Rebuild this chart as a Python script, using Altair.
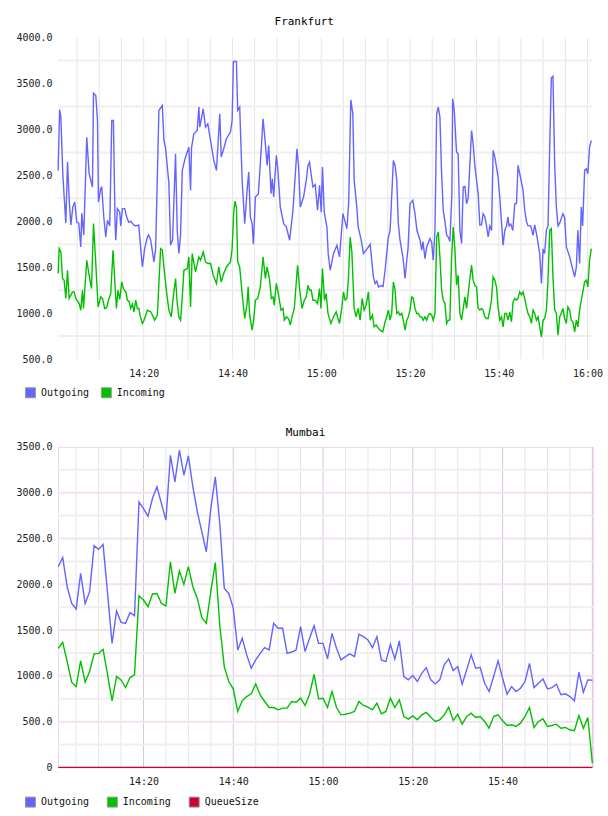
import altair as alt
import pandas as pd

FONT = "DejaVu Sans Mono"

# ---------------- Frankfurt (minutes after 14:00, values) ----------------
FRA_OUT_T = [
    0.74, 1.06, 1.35, 1.80, 2.47, 2.85, 3.26, 3.60, 4.04, 4.49,
    4.94, 5.39, 5.84, 6.07, 6.52, 7.19, 7.71, 8.09, 8.47, 8.70,
    9.21, 9.60, 9.82, 10.34, 10.56, 11.01, 11.46, 11.84, 12.36, 12.81,
    13.19, 13.55, 13.71, 14.09, 14.61, 14.83, 15.21, 15.73, 16.18, 16.63,
    17.08, 17.75, 18.20, 18.88, 19.71, 20.22, 20.83, 21.12, 21.57, 22.31,
    22.70, 23.44, 24.20, 24.56, 24.94, 25.69, 26.07, 26.52, 27.19, 27.57,
    27.93, 28.31, 28.70, 29.44, 30.18, 30.56, 30.79, 31.30, 32.07, 32.43,
    32.65, 33.42, 33.93, 34.45, 35.06, 35.80, 36.40, 37.15, 37.46, 38.04,
    38.65, 39.55, 39.93, 40.22, 40.90, 41.19, 41.64, 42.18, 42.76, 43.30,
    43.66, 44.04, 44.43, 44.72, 45.17, 45.84, 46.29, 46.90, 47.42, 47.80,
    48.16, 48.70, 48.99, 49.28, 49.89, 50.18, 50.79, 51.53, 52.13, 52.88,
    53.64, 54.54, 54.90, 55.28, 56.02, 56.63, 57.01, 57.37, 58.13, 58.65,
    59.17, 59.62, 60.00, 60.29, 60.67, 61.28, 61.57, 62.02, 62.76, 63.53,
    64.11, 64.88, 65.78, 66.18, 66.67, 67.12, 67.42, 68.02, 68.31, 68.99,
    69.51, 70.34, 71.01, 71.75, 72.13, 72.52, 72.88, 73.48, 73.93, 74.38,
    75.12, 75.51, 76.25, 76.63, 77.01, 77.37, 77.75, 78.43, 78.88, 79.26,
    79.55, 80.00, 80.61, 81.12, 81.57, 82.25, 82.63, 82.92, 83.37, 83.75,
    84.49, 84.88, 85.24, 85.62, 86.00, 86.36, 86.74, 87.12, 87.48, 87.87,
    88.25, 88.61, 88.99, 89.44, 89.60, 89.96, 90.49, 90.85, 91.24, 91.62,
    91.98, 92.36, 92.74, 93.10, 93.86, 94.22, 94.61, 95.35, 95.73, 96.11,
    96.47, 96.85, 97.24, 97.60, 97.98, 98.36, 98.72, 99.10, 99.48, 99.84,
    100.22, 100.61, 100.97, 101.35, 101.73, 102.09, 102.31, 102.70, 103.15, 103.60,
    103.98, 104.34, 104.72, 105.46, 105.84, 106.22, 106.58, 107.19, 107.71, 108.09,
    108.47, 109.21, 109.60, 109.96, 110.34, 110.72, 111.08, 111.46, 111.84, 112.20,
    112.58, 112.97, 113.33, 113.71, 114.45, 114.83, 115.21, 115.96, 116.34, 116.70,
    117.08, 117.46, 117.82, 118.20, 118.58, 118.88, 119.33, 119.71, 120.07, 120.45, 120.83,
]
FRA_OUT_V = [
    2554, 3217, 3134, 2500, 1978, 2645, 2200, 1960, 2155, 2210,
    1992, 1980, 1721, 2087, 1850, 2916, 2520, 2446, 2373, 3395,
    3370, 3098, 2210, 2358, 2370, 2047, 1829, 2011, 1950, 3098,
    3098, 2000, 1794, 2138, 2100, 1950, 2138, 2138, 2047, 1990,
    2000, 1960, 1950, 1960, 1503, 1700, 1829, 1850, 1800, 1558,
    1700, 3207, 3261, 2880, 2800, 2410, 1739, 1800, 2736, 1900,
    1649, 1850, 2554, 2700, 2807, 2337, 2800, 2953, 2990, 3243,
    3025, 3225, 3025, 3062, 2880, 2663, 2554, 3170, 2700, 2790,
    2899, 2971, 3098, 3740, 3740, 3207, 3243, 2446, 1975, 2337,
    2536, 2047, 1975, 1750, 2264, 2300, 2627, 3116, 2844, 2609,
    2826, 2301, 2464, 2264, 2717, 2590, 2155, 1975, 1940, 1794,
    2120, 2790, 2590, 2155, 2264, 2446, 2609, 2645, 2373, 2400,
    2120, 2391, 2100, 2590, 2101, 1938, 1649, 1467, 1649, 1739,
    1612, 2084, 1920, 2200, 3323, 3170, 2446, 2155, 1938, 1800,
    1649, 1700, 1750, 1395, 1323, 1350, 1286, 1300, 1290, 1467,
    1829, 1900, 2663, 2609, 2446, 1975, 1794, 1600, 1377, 1576,
    1700, 2192, 2228, 2084, 1900, 1794, 1685, 1780, 1594, 1720,
    1812, 1770, 1576, 1900, 3170, 3243, 3134, 2518, 2120, 2000,
    1850, 1829, 1780, 2300, 3334, 3207, 2754, 2736, 1900, 1758,
    2373, 2380, 2192, 2250, 2989, 2844, 2600, 2301, 1957, 1960,
    2084, 2050, 1950, 1829, 1950, 1900, 2772, 2700, 2590, 2482,
    2264, 1980, 1739, 1900, 1950, 2047, 1950, 1970, 1900, 2192,
    2192, 2609, 2518, 2337, 2120, 2000, 1950, 1950, 1848, 1960,
    1870, 1649, 1323, 1700, 1650, 1900, 1950, 2807, 3560, 3580,
    2627, 2155, 1950, 1980, 2084, 2040, 1721, 1612, 1540, 1467,
    1395, 1500, 1902, 1540, 2155, 1950, 2554, 2572, 2518, 2807, 2880,
]
FRA_IN_T = [
    0.74, 0.97, 1.35, 1.73, 2.09, 2.47, 2.85, 3.21, 3.98, 4.34,
    4.72, 5.46, 5.84, 6.22, 6.45, 7.19, 7.71, 8.25, 8.70, 9.21,
    9.73, 10.34, 10.72, 11.24, 11.69, 12.07, 12.58, 13.10, 13.48, 13.87,
    14.22, 14.61, 15.06, 15.44, 15.96, 16.34, 16.70, 17.08, 17.46, 17.82,
    18.20, 18.58, 18.94, 19.17, 19.71, 20.07, 20.83, 21.57, 21.96, 22.47,
    23.08, 23.82, 24.20, 24.56, 25.10, 25.69, 26.22, 26.67, 27.19, 27.57,
    27.93, 28.31, 28.70, 29.06, 29.82, 30.18, 30.56, 30.94, 31.69, 32.43,
    32.81, 33.42, 33.93, 34.45, 35.06, 35.66, 36.40, 36.92, 37.46, 38.04,
    38.65, 39.55, 39.93, 40.29, 40.56, 40.90, 41.19, 41.64, 42.18, 42.76,
    43.30, 43.53, 43.89, 44.43, 44.79, 45.17, 45.69, 46.29, 46.90, 47.42,
    47.80, 48.38, 48.76, 49.15, 49.44, 49.89, 50.40, 50.94, 51.39, 51.69,
    52.13, 52.65, 53.03, 53.42, 53.93, 54.67, 55.12, 55.66, 56.18, 56.63,
    57.01, 57.37, 57.75, 58.13, 58.65, 59.17, 59.62, 59.93, 60.29, 60.74,
    61.12, 61.51, 62.18, 62.76, 63.37, 63.66, 64.11, 64.65, 65.01, 65.39,
    65.78, 66.13, 66.52, 66.90, 67.42, 67.87, 68.31, 68.76, 69.21, 69.66,
    70.11, 70.63, 71.01, 71.53, 71.91, 72.36, 72.88, 73.26, 73.87, 74.38,
    74.76, 75.12, 75.51, 75.89, 76.25, 76.63, 77.01, 77.37, 77.75, 78.13,
    78.49, 78.88, 79.26, 79.62, 80.00, 80.38, 80.74, 81.12, 81.51, 81.87,
    82.25, 82.63, 82.99, 83.37, 83.75, 84.11, 84.49, 84.88, 85.24, 85.62,
    86.00, 86.36, 86.74, 87.12, 87.48, 87.87, 88.25, 88.61, 88.99, 89.37,
    89.73, 90.11, 90.49, 90.85, 91.24, 91.62, 91.98, 92.36, 92.74, 93.48,
    93.86, 94.22, 94.61, 94.99, 95.35, 95.73, 96.11, 96.47, 96.85, 97.24,
    97.60, 97.98, 98.36, 98.72, 99.10, 99.48, 99.84, 100.22, 100.61, 100.97,
    101.35, 101.73, 102.09, 102.47, 102.85, 103.21, 103.60, 103.98, 104.34, 104.72,
    105.10, 105.46, 105.84, 106.22, 106.58, 106.97, 107.35, 107.71, 108.09, 108.47,
    108.83, 109.21, 109.60, 109.96, 110.34, 110.72, 111.08, 111.46, 111.84, 112.20,
    112.58, 112.97, 113.33, 113.71, 114.09, 114.45, 114.83, 115.21, 115.57, 115.96,
    116.34, 116.70, 117.08, 117.46, 117.82, 118.20, 118.58, 118.94, 119.33, 119.71,
    120.07, 120.45, 120.83,
]
FRA_IN_V = [
    1431, 1703, 1666, 1377, 1359, 1160, 1467, 1160, 1232, 1232,
    1160, 1105, 1033, 1250, 1051, 1576, 1413, 1268, 1975, 1540,
    1068, 1177, 1160, 1051, 1060, 1141, 1214, 1685, 1359, 1051,
    1250, 1150, 1340, 1268, 1232, 1141, 1130, 1051, 1100, 1014,
    1141, 1051, 1051, 978, 888, 920, 1033, 1015, 980, 924,
    978, 1703, 1690, 1503, 1250, 1033, 960, 1177, 1377, 1105,
    960, 924, 1177, 1467, 1485, 1612, 1068, 1649, 1449, 1612,
    1576, 1666, 1558, 1540, 1540, 1413, 1323, 1503, 1340, 1431,
    1503, 1558, 1703, 2100, 2220, 2150, 1558, 1503, 1214, 942,
    1105, 1286, 978, 815, 924, 1141, 1160, 1286, 1612, 1377,
    1503, 1359, 1160, 1177, 1087, 1323, 1196, 1033, 1051, 924,
    960, 940, 870, 960, 1051, 1522, 1268, 1051, 1141, 1177,
    1304, 1250, 1250, 1141, 1141, 1105, 1268, 1051, 1486, 1141,
    1214, 997, 888, 960, 1014, 960, 888, 1068, 1232, 1141,
    1160, 1377, 1829, 1666, 1051, 960, 1051, 924, 1160, 1033,
    1087, 1232, 924, 980, 851, 870, 833, 815, 797, 906,
    960, 1033, 924, 1000, 1340, 1250, 997, 1014, 978, 1000,
    924, 815, 924, 960, 1033, 1177, 1160, 1051, 997, 997,
    960, 960, 924, 960, 924, 978, 997, 978, 924, 997,
    1829, 1884, 1612, 1250, 1141, 1105, 888, 924, 924, 1612,
    1938, 1685, 1304, 1413, 997, 924, 1051, 1177, 1051, 1377,
    1522, 1359, 1300, 1286, 1051, 1033, 1051, 1033, 960, 942,
    942, 1033, 1150, 1395, 1359, 1286, 1068, 924, 960, 851,
    997, 997, 924, 1014, 906, 1123, 1160, 1141, 1160, 1232,
    1200, 1232, 1160, 1068, 997, 960, 888, 1033, 1000, 924,
    960, 851, 742, 924, 942, 1033, 1359, 1902, 1920, 1395,
    1033, 1000, 761, 960, 1000, 1051, 942, 888, 1068, 1033,
    924, 906, 797, 924, 851, 1033, 1141, 1232, 1340, 1359,
    1286, 1576, 1703,
]

# ---------------- Mumbai (one value per minute, 14:01 .. 16:00) ----------------
MUM_OUT = [
    2192, 2293, 1973, 1791, 1730, 2119, 1791, 1919, 2421, 2381,
    2435, 1900, 1355, 1708, 1584, 1573, 1690, 1657, 2900, 2827,
    2744, 2936, 3064, 2882, 2700, 3409, 3118, 3464, 3191, 3402,
    3064, 2791, 2573, 2355, 2827, 3173, 2664, 1955, 1900, 1740,
    1283, 1410, 1229, 1083, 1174, 1246, 1308, 1283, 1573, 1519,
    1519, 1246, 1260, 1283, 1537, 1265, 1410, 1548, 1355, 1355,
    1185, 1464, 1301, 1174, 1210, 1240, 1210, 1453, 1428, 1392,
    1308, 1428, 1174, 1156, 1344, 1185, 1381, 992, 956, 1003,
    938, 1028, 1090, 956, 912, 956, 1120, 1185, 1058, 1101,
    908, 1065, 1229, 1083, 1094, 919, 829, 992, 1163, 974,
    799, 883, 829, 865, 938, 1137, 872, 919, 967, 858,
    872, 908, 793, 804, 774, 727, 1039, 821, 956, 952,
]
MUM_IN = [
    1301, 1366, 1156, 930, 883, 1163, 930, 1047, 1240, 1246,
    1290, 1010, 727, 992, 956, 872, 981, 1010, 1875, 1828,
    1755, 1894, 1900, 1791, 1763, 2246, 1900, 2145, 1999, 2192,
    1973, 1846, 1635, 1573, 1920, 2238, 1550, 1101, 938, 858,
    611, 727, 774, 803, 912, 792, 720, 654, 654, 629,
    647, 647, 720, 712, 756, 676, 799, 1017, 749, 756,
    654, 829, 654, 574, 581, 592, 611, 720, 676, 658,
    629, 701, 585, 611, 756, 654, 738, 556, 527, 563,
    520, 574, 600, 548, 502, 520, 574, 658, 512, 581,
    472, 556, 592, 545, 556, 502, 428, 556, 574, 509,
    458, 465, 447, 483, 556, 654, 436, 502, 531, 447,
    458, 472, 428, 436, 411, 400, 567, 428, 545, 47,
]
MUM_QUEUE = [0] * 120
MUM_MINUTES = list(range(1, 121))

FRA_SERIES = ["Outgoing", "Incoming"]
FRA_COLORS = ["#6464ff", "#00c000"]
MUM_SERIES = ["Outgoing", "Incoming", "QueueSize"]
MUM_COLORS = ["#6464ff", "#00c000", "#cc0033"]

FRA_Y_TICKS = [500, 1000, 1500, 2000, 2500, 3000, 3500, 4000]
FRA_Y_GRID = [750, 1250, 1750, 2250, 2750, 3250, 3750]
MUM_Y_TICKS = [0, 500, 1000, 1500, 2000, 2500, 3000, 3500]
MUM_Y_MINOR = [250, 750, 1250, 1750, 2250, 2750, 3250]
MUM_Y_MAJOR = [500, 1000, 1500, 2000, 2500, 3000]

BASE = pd.Timestamp("2024-01-01 14:00:00")


def ts(minutes):
    return [(BASE + pd.Timedelta(seconds=round(m * 60))).strftime("%Y-%m-%dT%H:%M:%S")
            for m in minutes]


def dt(h, m, s=0):
    return alt.DateTime(year=2024, month=1, date=1, hours=h, minutes=m, seconds=s)


FRA_X_LABELS = [dt(14, 20), dt(14, 40), dt(15, 0), dt(15, 20), dt(15, 40), dt(16, 0)]
MUM_X_LABELS = [dt(14, 20), dt(14, 40), dt(15, 0), dt(15, 20), dt(15, 40)]

five = pd.date_range("2024-01-01 14:05", "2024-01-01 16:00", freq="5min")
FRA_X_GRID = [t.strftime("%Y-%m-%dT%H:%M:%S") for t in five]
MUM_X_MAJOR = [t.strftime("%Y-%m-%dT%H:%M:%S") for t in five if t.minute % 20 == 0]
MUM_X_MINOR = [t.strftime("%Y-%m-%dT%H:%M:%S") for t in five if t.minute % 20 != 0]


def series_df(minutes, values, name):
    return pd.DataFrame({"time": ts(minutes), "value": values, "series": name})


fra_lines = [
    series_df(FRA_OUT_T, FRA_OUT_V, "Outgoing"),
    series_df(FRA_IN_T, FRA_IN_V, "Incoming"),
]
mum_lines = [
    series_df(MUM_MINUTES, MUM_OUT, "Outgoing"),
    series_df(MUM_MINUTES, MUM_IN, "Incoming"),
    series_df(MUM_MINUTES, MUM_QUEUE, "QueueSize"),
]


def x_axis(values):
    return alt.Axis(values=values, format="%H:%M", labelFont=FONT, labelFontSize=10,
                    labelColor="#222222", labelPadding=9, ticks=False, domain=False,
                    grid=False, title=None, labelFlush=False, labelOverlap=False,
                    labelBound=False)


def y_axis(values, expr):
    kw = dict(values=values, format=".1f", labelFont=FONT, labelFontSize=10,
              labelColor="#222222", labelPadding=6, ticks=False, domain=False,
              grid=False, title=None, labelOverlap=False, labelFlush=False)
    if expr:
        kw["labelExpr"] = expr
    return alt.Axis(**kw)


def legend(col_pad):
    return alt.Legend(orient="none", legendX=-33, legendY=350, direction="horizontal",
                      symbolType="square", symbolSize=100, symbolStrokeColor="#999999",
                      symbolStrokeWidth=1, symbolOpacity=1, labelFont=FONT,
                      labelFontSize=10, labelColor="#111111", labelOffset=5,
                      columnPadding=col_pad, padding=0, title=None)


def panel(lines, title, series, colors, xdom, ydom, width, height, xlabels, yticks,
          ylabel_expr, hgrid, vgrid, col_pad, dx, title_offset):
    xs = alt.Scale(domain=xdom)
    ys = alt.Scale(domain=ydom, nice=False, zero=False)
    cs = alt.Scale(domain=series, range=colors)
    xa = x_axis(xlabels)
    ya = y_axis(yticks, ylabel_expr)
    layers = []
    for values, color in vgrid:
        layers.append(alt.Chart(pd.DataFrame({"time": values})).mark_rule(
            color=color, strokeWidth=1).encode(x=alt.X("time:T", scale=xs, axis=xa)))
    for values, color in hgrid:
        layers.append(alt.Chart(pd.DataFrame({"value": values})).mark_rule(
            color=color, strokeWidth=2).encode(y=alt.Y("value:Q", scale=ys, axis=ya)))
    for df, color in zip(lines, colors):
        layers.append(alt.Chart(df).mark_line(strokeWidth=1.4, color=color).encode(
            x=alt.X("time:T", scale=xs, axis=xa),
            y=alt.Y("value:Q", scale=ys, axis=ya),
            order=alt.Order("time:T"),
        ))
    keys_df = pd.concat([df.head(1) for df in lines], ignore_index=True)
    layers.append(alt.Chart(keys_df).mark_square(
        opacity=0, filled=True, stroke="#999999", strokeWidth=1
    ).encode(
        x=alt.X("time:T", scale=xs, axis=xa),
        y=alt.Y("value:Q", scale=ys, axis=ya),
        fill=alt.Fill("series:N", scale=cs, legend=legend(col_pad)),
    ))
    return alt.layer(*layers).properties(
        width=width, height=height,
        title=alt.TitleParams(title, font=FONT, fontSize=11, fontWeight="normal",
                              color="#000000", anchor="middle", frame="bounds",
                              offset=title_offset, dx=dx),
    )


top = panel(
    fra_lines, "Frankfurt", FRA_SERIES, FRA_COLORS,
    [dt(14, 0, 41), dt(16, 1, 0)], [500, 4000], 535, 322,
    FRA_X_LABELS, FRA_Y_TICKS, None,
    [(FRA_Y_GRID, "#efefef")],
    [(FRA_X_GRID, "#e6e6e6")],
    9, -5, 6,
)

bottom = panel(
    mum_lines, "Mumbai", MUM_SERIES, MUM_COLORS,
    [dt(14, 0, 56), dt(16, 0, 9)], [0, 3500], 536, 321,
    MUM_X_LABELS, MUM_Y_TICKS, "datum.value == 0 ? '0' : format(datum.value, '.1f')",
    [(MUM_Y_MINOR, "#efefef"), (MUM_Y_MAJOR, "#f2e2f2")],
    [(MUM_X_MINOR, "#e6e6e6"), (MUM_X_MAJOR, "#dcc6dc")],
    15, 0, 4,
).properties(view=alt.ViewBackground(stroke="#eed8ee", strokeWidth=1))

chart = alt.vconcat(top, bottom, spacing=26).resolve_scale(
    fill="independent"
).resolve_legend(
    fill="independent"
).properties(
    padding={"left": 15, "top": 15, "right": 5, "bottom": 5},
    background="#ffffff",
).configure_view(strokeWidth=0)

chart.save("out.html", embed_options={"renderer": "svg", "actions": False})
